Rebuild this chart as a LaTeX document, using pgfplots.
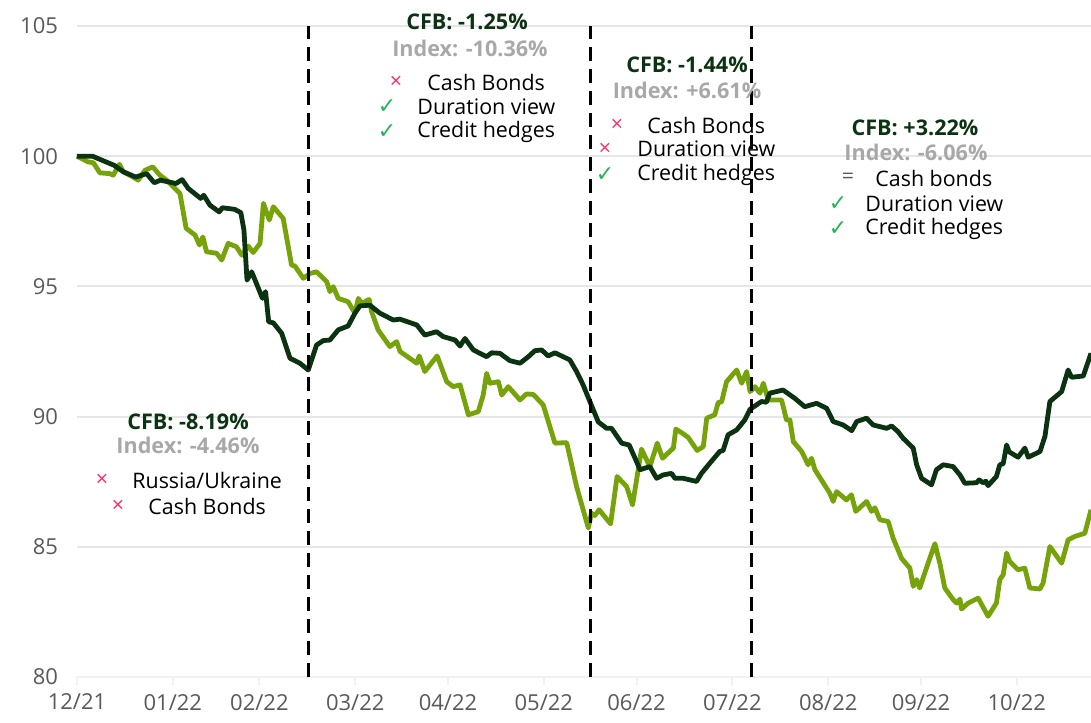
\documentclass[border=0pt]{standalone}
\usepackage{pgfplots}
\pgfplotsset{compat=1.18}
\usepackage{fontspec}
\setmainfont{Open Sans}
\newfontfamily\symfont{DejaVu Sans}

\definecolor{cfb}{HTML}{0B3311}
\definecolor{idx}{HTML}{76A30A}
\definecolor{idxgray}{HTML}{A8A8A8}
\definecolor{crossc}{HTML}{FF2E6E}
\definecolor{chk}{HTML}{22B455}
\definecolor{ticklab}{HTML}{595959}
\definecolor{gridc}{HTML}{E6E6E6}

% days since 31/12/2021, index level
\pgfplotstableread{
x y
0 100
5 100
12 99.65
15 99.4
19 99.2
22.5 99.33
25 98.98
27 99.08
32 98.95
34 99.1
36 98.76
40 98.38
41 98.5
43 98.12
46 97.86
47 98.02
51 97.96
53 97.83
54 97.16
55 95.24
56.5 95.56
60 94.54
61 94.8
62 93.64
63.5 93.6
66.2 93.2
68.9 92.24
72.1 92.05
74.8 91.79
77.5 92.75
79.7 92.92
81.8 92.94
84.5 93.33
87.7 93.48
89.9 93.97
91.5 94.25
94.7 94.28
98 93.97
102.3 93.71
104.5 93.74
109.9 93.52
112.5 93.13
116.3 93.26
118.5 93.07
122.3 92.94
123.9 92.71
125.5 93.0
128.2 92.56
132.5 92.3
134.1 92.45
136.8 92.43
140 92.15
143.3 92.05
146 92.3
148.1 92.53
150.3 92.56
152.4 92.33
154.6 92.45
159.4 92.18
161.6 91.73
163.7 91.22
165.9 90.58
167 90.26
168.6 89.8
171.3 89.55
172.9 89.55
176.2 88.98
178.6 88.91
181 88.27
182.1 87.96
185.3 88.08
187.5 87.63
189.6 87.76
192.3 87.82
193.4 87.63
196.1 87.63
200.4 87.51
202 87.82
204.7 88.21
207.9 88.66
209 88.7
210.6 89.3
213.4 89.49
216 89.87
217.7 90.28
221.4 90.58
223 90.55
224.1 90.9
228.4 91.02
232.2 90.7
235.4 90.38
239.2 90.51
242.5 90.32
244.6 89.81
247.8 89.68
250.6 89.46
252.2 89.81
255.4 89.94
257.5 89.68
261.9 89.55
263.5 89.64
265.6 89.42
267.2 89.17
270.5 88.79
271.6 88.15
273.2 87.63
276.4 87.38
278 87.96
280.2 88.15
283.4 88.08
285.6 87.76
287.2 87.44
291 87.46
291.8 87.57
293.1 87.46
294 87.52
294.7 87.35
297.4 87.7
298.5 88.15
299.6 88.19
300.7 88.91
301.5 88.65
304.4 88.44
306.6 88.79
307.7 88.44
311.5 88.66
313.1 89.24
314.7 90.58
318.5 90.96
320.6 91.79
321.7 91.51
325.5 91.56
328 92.43
}\cfbdata

\pgfplotstableread{
x y
0 100
3.6 99.78
5.3 99.75
7.4 99.36
10.7 99.33
11.7 99.27
13.7 99.69
15 99.4
17.7 99.23
19.8 99.08
22 99.46
24.5 99.59
26.8 99.27
29 99.08
32.8 98.63
33.3 98.57
35.3 97.23
38.2 96.97
39.6 96.59
40.7 96.9
41.9 96.33
45.2 96.27
46.8 96.01
48.9 96.65
51.6 96.52
53.3 96.2
55.4 96.55
57 96.3
59.2 96.65
60.3 98.19
62.2 97.55
63.5 98.06
66.7 97.61
69.4 95.82
70.5 95.78
73.2 95.31
75.4 95.5
77.5 95.56
80.8 95.18
81.8 94.8
82.9 94.99
84.5 94.54
87.7 94.41
89.9 93.97
91 94.54
92.1 94.35
94.5 94.5
95.3 94.03
97.4 93.33
101.2 92.69
103.4 92.88
104.5 92.5
109.9 92.05
110.7 92.33
112.5 91.73
116.5 92.33
119.6 91.34
121.7 91.15
123.9 91.22
126.6 90.07
129.8 90.19
131.4 90.83
132.5 91.66
133.6 91.28
136.3 91.34
137.4 90.83
139.5 91.15
143.3 90.64
145.4 90.87
147.6 90.85
150.8 90.45
154.6 88.98
158.4 89.0
161.6 87.31
165.4 85.72
166.4 86.29
167.5 86.2
168.9 86.42
172.6 85.88
174.7 87.7
177.8 87.31
179.7 86.61
182.6 88.75
185.3 88.08
187.7 88.98
189.4 88.4
192.9 88.79
193.7 89.52
196.1 89.34
197.7 89.2
200.6 88.7
202.6 88.85
203.7 89.94
206.3 90.07
207.4 90.54
208.5 90.56
210.1 91.34
213.4 91.79
215 91.28
216.6 91.73
217.7 90.96
219.3 91.15
220.9 90.9
222 91.28
223.6 90.64
227.9 90.64
229.5 89.87
230.6 89.87
231.7 89.04
234.4 88.66
236.5 88.15
237.6 88.4
238.7 87.96
243.5 87.06
244.6 86.74
245.7 87.12
248.9 86.8
250.5 87.0
251.9 86.36
255.4 86.74
257 86.36
258.1 86.5
259.7 86.04
262.4 85.97
264 85.33
266.7 84.56
269.4 84.18
270.5 83.48
271.6 83.74
272.6 83.42
275.3 84.37
277.5 85.12
279.1 84.37
280.7 83.42
283.4 82.97
284.5 82.84
285.6 82.99
286.1 82.61
288.3 82.84
291.5 83.03
294.7 82.33
297.4 82.84
298.5 83.74
299.6 83.93
300.7 84.76
301.7 84.44
304.4 84.12
306.6 84.18
308.2 83.42
311.5 83.38
312.5 83.61
314.7 85.01
318.5 84.37
320.6 85.27
322.8 85.4
326 85.52
328 86.42
}\idxdata

\begin{document}
\begin{tikzpicture}[every node/.style={font=\fontsize{10.7}{13}\selectfont}]
\useasboundingbox (-38.5pt,-22.5pt) rectangle (507pt,338.5pt);
\begin{axis}[
width=507pt,
height=325.5pt,
scale only axis,
xmin=0, xmax=328,
ymin=80, ymax=105,
axis x line*=bottom,
axis y line*=left,
y axis line style={draw=none},
x axis line style={draw=gridc!80!black!20, line width=1.4pt},
xtick={0,31,59,90,120,151,181,212,243,273,304},
xticklabels={12/21,01/22,02/22,03/22,04/22,05/22,06/22,07/22,08/22,09/22,10/22},
ytick={80,85,90,95,100,105},
xtick align=outside,
major tick length=4pt,
xtick style={draw=gridc!80!black!20, line width=1pt},
ytick style={draw=none},
ymajorgrids,
grid style={draw=gridc, line width=1pt},
tick label style={font=\fontsize{11}{13}\selectfont, text=ticklab},
/pgf/number format/assume math mode=true,
xticklabel style={yshift=-1pt},
yticklabel style={xshift=-6pt},
clip=false,
]
\addplot[color=idx, line width=2.4pt, line join=round] table[x=x,y=y] {\idxdata};
\addplot[color=cfb, line width=2.4pt, line join=round] table[x=x,y=y] {\cfbdata};
\addplot[black, line width=1.4pt, dash pattern=on 7pt off 4pt] coordinates {(75,80) (75,105)};
\addplot[black, line width=1.4pt, dash pattern=on 7pt off 4pt] coordinates {(166,80) (166,105)};
\addplot[black, line width=1.4pt, dash pattern=on 7pt off 4pt] coordinates {(218.3,80) (218.3,105)};
\end{axis}

% annotations, placed in reference-pixel coordinates
\begin{scope}[x=0.5pt, y=-0.5pt, shift={(-38.5pt,338.5pt)}]
\tikzset{
  hd/.style={font=\fontsize{10.8}{13}\selectfont\bfseries, text=cfb, inner sep=0pt},
  ix/.style={font=\fontsize{10.8}{13}\selectfont\bfseries, text=idxgray, inner sep=0pt},
  tx/.style={anchor=west, inner sep=0pt, text=black},
  xx/.style={inner sep=0pt, text=crossc},
  ck/.style={inner sep=0pt, text=chk, font=\fontsize{11}{12}\symfont},
}
% block 1
\node[hd] at (467,22) {CFB: -1.25\%};
\node[ix] at (470,48) {Index: -10.36\%};
\node[xx] at (396,82) {×};
\node[tx] at (427,82) {Cash Bonds};
\node[ck] at (387,107) {✓};
\node[tx] at (417,107) {Duration view};
\node[ck] at (387,132) {✓};
\node[tx] at (417,132) {Credit hedges};
% block 2
\node[hd] at (687,65) {CFB: -1.44\%};
\node[ix] at (687,90) {Index: +6.61\%};
\node[xx] at (617,125) {×};
\node[tx] at (647,125) {Cash Bonds};
\node[xx] at (605,149) {×};
\node[tx] at (637,149) {Duration view};
\node[ck] at (605,175) {✓};
\node[tx] at (637,175) {Credit hedges};
% block 3
\node[hd] at (915,128) {CFB: +3.22\%};
\node[ix] at (916,152) {Index: -6.06\%};
\node[inner sep=0pt, text=ticklab] at (848,178) {=};
\node[tx] at (875,178) {Cash bonds};
\node[ck] at (838,204) {✓};
\node[tx] at (865,204) {Duration view};
\node[ck] at (838,229) {✓};
\node[tx] at (865,229) {Credit hedges};
% block 4
\node[hd] at (188,422) {CFB: -8.19\%};
\node[ix] at (188,445) {Index: -4.46\%};
\node[xx] at (102,480) {×};
\node[tx] at (132,480) {Russia/Ukraine};
\node[xx] at (118,506) {×};
\node[tx] at (148,506) {Cash Bonds};
\end{scope}
\end{tikzpicture}
\end{document}
